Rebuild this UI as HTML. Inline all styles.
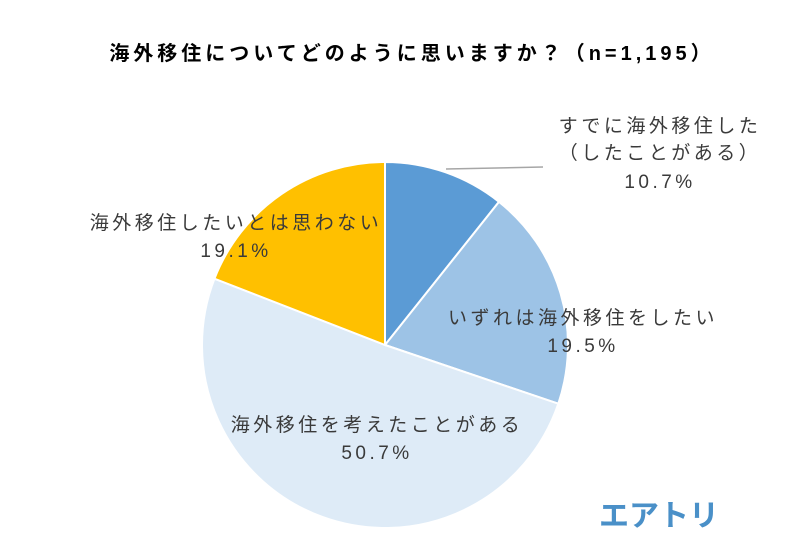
<!DOCTYPE html>
<html><head><meta charset="utf-8"><style>
body{margin:0;background:#fff;}
svg{display:block;font-family:"Liberation Sans","Noto Sans CJK JP",sans-serif;}
</style></head><body>
<svg id="chart" width="790" height="545" viewBox="0 0 790 545">
<text x="412" y="60" text-anchor="middle" font-size="20" font-weight="bold" letter-spacing="4" fill="#000">海外移住についてどのように思いますか？（n=1,195）</text>
<g id="slices"></g>
<line x1="446" y1="169" x2="543" y2="167" stroke="#a6a6a6" stroke-width="1.5"/>
<g font-size="19" fill="#3a3a3a" text-anchor="middle" letter-spacing="3.5">
<text x="660" y="132">すでに海外移住した</text>
<text x="660" y="159">（したことがある）</text>
<text x="660" y="188">10.7%</text>
<text x="583" y="324">いずれは海外移住をしたい</text>
<text x="583" y="352">19.5%</text>
<text x="377" y="431">海外移住を考えたことがある</text>
<text x="377" y="459">50.7%</text>
<text x="236" y="229">海外移住したいとは思わない</text>
<text x="236" y="257">19.1%</text>
</g>
<text x="659" y="526" text-anchor="middle" font-size="30" font-weight="bold" fill="#4a90c8">エアトリ</text>
</svg>
<script>
const categories = ["すでに海外移住した","いずれは海外移住をしたい","海外移住を考えたことがある","海外移住したいとは思わない"];
const values = [10.7, 19.5, 50.7, 19.1];
const colors = ["#5b9bd5","#9dc3e6","#deebf7","#ffc000"];
const cx=385, cy=345, r=183;
const g=document.getElementById('slices');
const total=values.reduce((a,b)=>a+b,0);
let a0=0;
values.forEach((v,i)=>{
  const a1=a0+v/total*2*Math.PI;
  const x0=cx+r*Math.sin(a0), y0=cy-r*Math.cos(a0);
  const x1=cx+r*Math.sin(a1), y1=cy-r*Math.cos(a1);
  const large=(a1-a0)>Math.PI?1:0;
  const p=document.createElementNS('http://www.w3.org/2000/svg','path');
  p.setAttribute('d',`M${cx},${cy}L${x0},${y0}A${r},${r} 0 ${large} 1 ${x1},${y1}Z`);
  p.setAttribute('fill',colors[i]);
  p.setAttribute('stroke','#fff');
  p.setAttribute('stroke-width','2');
  
  
  g.appendChild(p);
  a0=a1;
});
</script>
</body></html>
